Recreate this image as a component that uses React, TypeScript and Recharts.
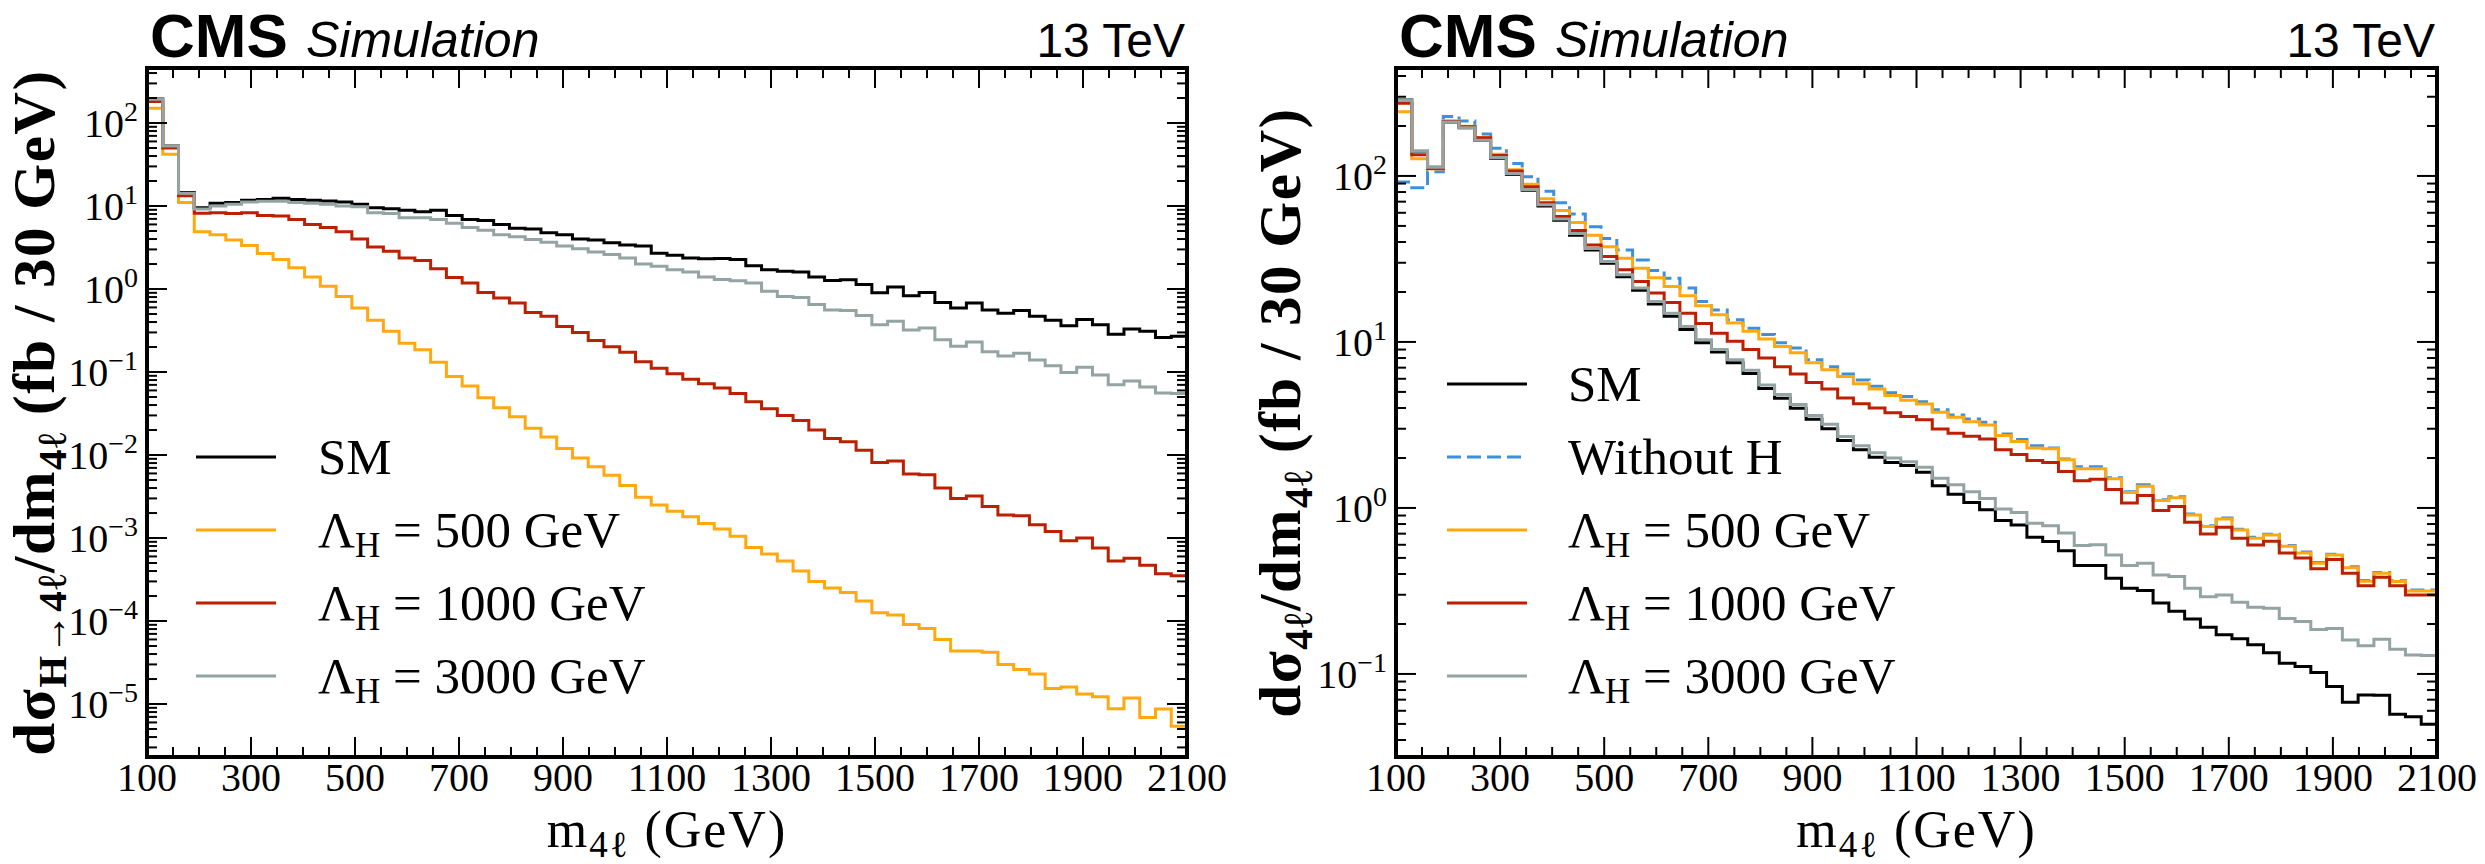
import { LineChart, Line, XAxis, YAxis } from "recharts";

const SERIF = '"Liberation Serif", "DejaVu Serif", "Times New Roman", serif';
const SANS = '"Liberation Sans", Arial, Helvetica, sans-serif';

// binning of the m4l histograms
const BIN_LO = 100;
const BIN_HI = 2100;
const N_BINS = 66;

const X_MAJOR = [100, 300, 500, 700, 900, 1100, 1300, 1500, 1700, 1900, 2100];

// left panel: H -> 4l signal only
const leftSM = [
  195, 53, 14.5, 9.5, 10.8, 11.0, 11.7, 12.0, 12.4, 12.0,
  11.7, 11.5, 11.2, 10.5, 9.5, 9.3, 8.9, 8.5, 8.9, 7.7,
  6.9, 6.7, 6.0, 5.4, 5.3, 4.75, 4.5, 4.0, 3.9, 3.6,
  3.4, 3.3, 2.7, 2.55, 2.37, 2.32, 2.33, 2.26, 1.91, 1.71,
  1.64, 1.6, 1.4, 1.27, 1.29, 1.13, 0.9, 1.06, 0.83, 0.91,
  0.69, 0.59, 0.68, 0.56, 0.51, 0.55, 0.47, 0.42, 0.36, 0.43,
  0.37, 0.286, 0.33, 0.31, 0.26, 0.27,
];
const leftL500 = [
  151, 42, 11, 4.9, 4.5, 3.9, 3.35, 2.67, 2.26, 1.8,
  1.4, 1.08, 0.81, 0.59, 0.42, 0.31, 0.222, 0.185, 0.131, 0.088,
  0.068, 0.049, 0.037, 0.029, 0.021, 0.0165, 0.012, 0.0092, 0.0072, 0.0057,
  0.0043, 0.0031, 0.0025, 0.0021, 0.0018, 0.0015, 0.00128, 0.00105, 0.00077, 0.00064,
  0.00053, 0.0004, 0.0003, 0.00025, 0.00022, 0.000174, 0.000126, 0.000118, 0.000091, 0.000081,
  0.00006, 0.0000435, 0.0000435, 0.000042, 0.00003, 0.000026, 0.000023, 0.0000154, 0.000016, 0.0000132,
  0.0000122, 0.0000088, 0.0000118, 0.0000069, 0.0000087, 0.0000054,
];
const leftL1000 = [
  181, 50, 13.3, 8.2, 8.3, 8.1, 8.3, 7.7, 7.6, 6.9,
  6.0, 5.5, 4.9, 4.0, 3.2, 2.86, 2.37, 2.2, 1.75, 1.38,
  1.18, 0.91, 0.78, 0.68, 0.52, 0.47, 0.353, 0.3, 0.24, 0.202,
  0.173, 0.133, 0.111, 0.095, 0.082, 0.072, 0.064, 0.055, 0.0437, 0.036,
  0.03, 0.026, 0.02, 0.0158, 0.0144, 0.0114, 0.0081, 0.0085, 0.0059, 0.0058,
  0.004, 0.003, 0.0032, 0.0024, 0.0019, 0.00185, 0.00145, 0.0012, 0.00093, 0.001,
  0.00076, 0.00053, 0.00057, 0.00047, 0.00037, 0.00035,
];
const leftL3000 = [
  193, 53, 14.2, 9.2, 10.0, 10.5, 11.2, 11.4, 11.4, 11.0,
  10.8, 10.5, 10.0, 9.8, 8.3, 8.1, 7.2, 7.2, 6.9, 6.2,
  5.5, 5.1, 4.5, 4.25, 3.95, 3.67, 3.3, 3.05, 2.8, 2.6,
  2.37, 2.0, 1.88, 1.71, 1.6, 1.4, 1.3, 1.26, 1.18, 0.94,
  0.815, 0.79, 0.65, 0.56, 0.55, 0.48, 0.37, 0.41, 0.32, 0.34,
  0.244, 0.204, 0.23, 0.176, 0.156, 0.168, 0.14, 0.119, 0.099, 0.114,
  0.092, 0.07, 0.078, 0.066, 0.056, 0.055,
];

// right panel: full 4l
const rightSM = [
  288, 141, 113, 211, 195, 164, 128, 102, 82, 66,
  54, 44, 35.8, 29.8, 24.7, 20.5, 16.9, 14.3, 11.9, 9.9,
  8.7, 7.5, 6.45, 5.25, 4.58, 3.98, 3.42, 3.0, 2.55, 2.24,
  2.02, 1.88, 1.8, 1.64, 1.36, 1.21, 1.08, 0.977, 0.84, 0.79,
  0.666, 0.627, 0.553, 0.45, 0.45, 0.377, 0.328, 0.318, 0.268, 0.239,
  0.214, 0.191, 0.172, 0.163, 0.15, 0.134, 0.116, 0.111, 0.102, 0.084,
  0.0675, 0.0747, 0.0743, 0.0571, 0.0553, 0.0497,
];
const rightNoH = [
  92, 85, 106, 228, 214, 179, 147, 119, 99, 81,
  69, 59, 49.4, 42, 35.8, 31.2, 26.9, 24.2, 21.1, 17.5,
  15.6, 13.6, 12.1, 11.1, 9.9, 9.2, 7.8, 7.1, 6.4, 5.9,
  5.4, 4.95, 4.69, 4.37, 3.9, 3.63, 3.44, 3.28, 2.79, 2.58,
  2.37, 2.3, 1.97, 1.77, 1.77, 1.52, 1.25, 1.38, 1.12, 1.17,
  0.92, 0.78, 0.87, 0.745, 0.665, 0.695, 0.595, 0.542, 0.47, 0.527,
  0.442, 0.366, 0.409, 0.364, 0.32, 0.32,
];
const rightL500 = [
  244, 127, 110, 215, 199, 170, 135, 109, 89, 73,
  62, 52.5, 44, 37.5, 31.9, 27.8, 24.4, 21.6, 19.0, 16.5,
  14.6, 13.0, 11.6, 10.4, 9.4, 8.6, 7.5, 6.8, 6.2, 5.6,
  5.2, 4.75, 4.45, 4.23, 3.77, 3.52, 3.31, 3.16, 2.73, 2.51,
  2.3, 2.27, 1.95, 1.72, 1.72, 1.5, 1.24, 1.35, 1.11, 1.15,
  0.908, 0.772, 0.859, 0.737, 0.656, 0.688, 0.588, 0.536, 0.464, 0.521,
  0.437, 0.362, 0.404, 0.36, 0.316, 0.316,
];
const rightL1000 = [
  274, 134, 111, 213, 198, 170, 133, 107, 86, 69,
  57, 47, 38.4, 32.7, 27.2, 23.1, 19.7, 17.3, 14.9, 12.9,
  11.3, 10.1, 9.0, 8.0, 7.1, 6.4, 5.7, 5.2, 4.6, 4.25,
  4.0, 3.75, 3.55, 3.4, 2.99, 2.82, 2.7, 2.6, 2.24, 2.1,
  1.93, 1.88, 1.66, 1.46, 1.49, 1.29, 1.07, 1.19, 0.964, 1.02,
  0.82, 0.697, 0.765, 0.656, 0.598, 0.63, 0.536, 0.5, 0.43, 0.489,
  0.404, 0.34, 0.382, 0.34, 0.299, 0.299,
];
const rightL3000 = [
  288, 141, 113, 211, 195, 164, 129, 103, 83, 67,
  55, 45, 36.6, 30.5, 25.4, 21.1, 17.5, 14.9, 12.4, 10.3,
  9.0, 7.8, 6.76, 5.5, 4.83, 4.2, 3.6, 3.19, 2.69, 2.37,
  2.15, 2.0, 1.9, 1.76, 1.51, 1.38, 1.25, 1.14, 0.986, 0.94,
  0.81, 0.78, 0.707, 0.593, 0.6, 0.521, 0.45, 0.464, 0.395, 0.386,
  0.328, 0.292, 0.299, 0.27, 0.252, 0.249, 0.216, 0.207, 0.185, 0.188,
  0.16, 0.148, 0.162, 0.141, 0.13, 0.129,
];

const C_BLACK = "#000000";
const C_BLUE = "#3f90da";
const C_ORANGE = "#ffa90e";
const C_RED = "#bd1f01";
const C_GREY = "#94a4a2";

const W = 2485;
const H = 864;
const PLOT_TOP = 68;
const PLOT_BOTTOM = 757;

const edges = Array.from({ length: N_BINS + 1 }, (_, i) => BIN_LO + ((BIN_HI - BIN_LO) * i) / N_BINS);

// histogram rows for stepAfter: one point per lower edge, last edge repeats final bin
function buildRows(cols: Record<string, number[]>) {
  return edges.map((m, i) => {
    const row: Record<string, number> = { m };
    for (const k of Object.keys(cols)) row[k] = cols[k][Math.min(i, N_BINS - 1)];
    return row;
  });
}

const leftRows = buildRows({ sm: leftSM, l500: leftL500, l1000: leftL1000, l3000: leftL3000 });
const rightRows = buildRows({ sm: rightSM, noh: rightNoH, l500: rightL500, l1000: rightL1000, l3000: rightL3000 });

const X_TICKS: number[] = [];
for (let v = BIN_LO; v <= BIN_HI; v += 50) X_TICKS.push(v);

function logTicks(lo: number, hi: number) {
  const out: number[] = [];
  for (let e = Math.floor(Math.log10(lo)); e <= Math.ceil(Math.log10(hi)); e++) {
    for (let k = 1; k <= 9; k++) {
      const v = parseFloat(`${k}e${e}`);
      if (v >= lo && v <= hi) out.push(v);
    }
  }
  return out;
}

const isDecade = (v: number) => {
  const e = Math.log10(v);
  return Math.abs(e - Math.round(e)) < 1e-9;
};

const TICK = { stroke: "#000", strokeWidth: 2 };
const AXIS_LINE = { stroke: "#000", strokeWidth: 4, strokeLinecap: "square" as const };

function BottomTick(props: any) {
  const { x, y, payload } = props;
  const v = payload.value;
  const major = X_MAJOR.includes(v);
  return (
    <g>
      <line x1={x} x2={x} y1={y} y2={y - (major ? 20 : 10)} {...TICK} />
      {major && (
        <text x={x} y={y + 34} textAnchor="middle" fontFamily={SERIF} fontSize={40} fill="#000">
          {v}
        </text>
      )}
    </g>
  );
}

function TopTick(props: any) {
  const { x, y, payload } = props;
  const major = X_MAJOR.includes(payload.value);
  return <line x1={x} x2={x} y1={y} y2={y + (major ? 20 : 10)} {...TICK} />;
}

function LeftTick(props: any) {
  const { x, y, payload } = props;
  const v = payload.value;
  const major = isDecade(v);
  const e = Math.round(Math.log10(v));
  return (
    <g>
      <line x1={x} x2={x + (major ? 20 : 10)} y1={y} y2={y} {...TICK} />
      {major && (
        <text x={x - 9} y={y + 14} textAnchor="end" fontFamily={SERIF} fontSize={40} fill="#000">
          10
          <tspan dy={-16} fontSize={28}>
            {e < 0 ? `\u2212${-e}` : `${e}`}
          </tspan>
        </text>
      )}
    </g>
  );
}

function RightTick(props: any) {
  const { x, y, payload } = props;
  const major = isDecade(payload.value);
  return <line x1={x} x2={x - (major ? 20 : 10)} y1={y} y2={y} {...TICK} />;
}

type Series = { key: string; color: string; dash?: string };

// axes get a 1px band (recharts skips axes of zero size); margins compensate
const AX = 1;

function Panel(props: {
  left: number;
  width: number;
  plotLeft: number;
  plotRight: number;
  rows: Record<string, number>[];
  series: Series[];
  yDomain: [number, number];
}) {
  const { left, width, plotLeft, plotRight, rows, series, yDomain } = props;
  const yTicks = logTicks(yDomain[0], yDomain[1]);
  return (
    <div style={{ position: "absolute", left, top: 0 }}>
      <LineChart
        width={width}
        height={H}
        data={rows}
        margin={{
          top: PLOT_TOP - AX,
          bottom: H - PLOT_BOTTOM - AX,
          left: plotLeft - left - AX,
          right: left + width - plotRight - AX,
        }}
      >
        <XAxis
          xAxisId="b"
          dataKey="m"
          type="number"
          domain={[BIN_LO, BIN_HI]}
          ticks={X_TICKS}
          interval={0}
          allowDataOverflow
          height={AX}
          tickSize={0}
          tickMargin={0}
          tickLine={false}
          axisLine={AXIS_LINE}
          tick={BottomTick}
        />
        <XAxis
          xAxisId="t"
          orientation="top"
          dataKey="m"
          type="number"
          domain={[BIN_LO, BIN_HI]}
          ticks={X_TICKS}
          interval={0}
          allowDataOverflow
          height={AX}
          tickSize={0}
          tickMargin={0}
          tickLine={false}
          axisLine={AXIS_LINE}
          tick={TopTick}
        />
        <YAxis
          yAxisId="l"
          type="number"
          scale="log"
          domain={yDomain}
          ticks={yTicks}
          interval={0}
          allowDataOverflow
          width={AX}
          tickSize={0}
          tickMargin={0}
          tickLine={false}
          axisLine={AXIS_LINE}
          tick={LeftTick}
        />
        <YAxis
          yAxisId="r"
          orientation="right"
          type="number"
          scale="log"
          domain={yDomain}
          ticks={yTicks}
          interval={0}
          allowDataOverflow
          width={AX}
          tickSize={0}
          tickMargin={0}
          tickLine={false}
          axisLine={AXIS_LINE}
          tick={RightTick}
        />
        {series.map((s) => (
          <Line
            key={s.key}
            xAxisId="b"
            yAxisId="l"
            dataKey={s.key}
            type="stepAfter"
            stroke={s.color}
            strokeWidth={3}
            strokeDasharray={s.dash}
            dot={false}
            activeDot={false}
            isAnimationActive={false}
          />
        ))}
      </LineChart>
    </div>
  );
}

function Lambda({ v }: { v: string }) {
  return (
    <>
      Λ
      <tspan dy={10} fontSize={35}>
        H
      </tspan>
      <tspan dy={-10}>{` = ${v} GeV`}</tspan>
    </>
  );
}

function LegendBlock(props: { lineX: number; textX: number; rows: { y: number; color: string; dash?: string; label: any }[] }) {
  return (
    <g>
      {props.rows.map((r, i) => (
        <g key={i}>
          <line x1={props.lineX} x2={props.lineX + 80} y1={r.y} y2={r.y} stroke={r.color} strokeWidth={3} strokeDasharray={r.dash} />
          <text x={props.textX} y={r.y + 17} fontFamily={SERIF} fontSize={51} fill="#000" style={{ whiteSpace: "pre" }}>
            {r.label}
          </text>
        </g>
      ))}
    </g>
  );
}

function Header({ x0, x1 }: { x0: number; x1: number }) {
  return (
    <g>
      <text x={x0 + 3} y={57} fontFamily={SANS} fontWeight="bold" fontSize={62} fill="#000">
        CMS
      </text>
      <text x={x0 + 159} y={57} fontFamily={SANS} fontStyle="italic" fontSize={50} fill="#000">
        Simulation
      </text>
      <text x={x1 - 2} y={57} textAnchor="end" fontFamily={SANS} fontSize={48} fill="#000">
        13 TeV
      </text>
    </g>
  );
}

function XLabel({ cx }: { cx: number }) {
  return (
    <text
      x={cx}
      y={847}
      textAnchor="middle"
      fontFamily={SERIF}
      fontSize={52}
      letterSpacing={2}
      fill="#000"
      style={{ whiteSpace: "pre" }}
    >
      m
      <tspan dy={10} fontSize={37}>
        4ℓ
      </tspan>
      <tspan dy={-10}> (GeV)</tspan>
    </text>
  );
}

function YLabel({ x, cy, sub }: { x: number; cy: number; sub: string }) {
  return (
    <text
      x={x}
      y={cy}
      transform={`rotate(-90 ${x} ${cy})`}
      textAnchor="middle"
      fontFamily={SERIF}
      fontWeight="bold"
      fontSize={59}
      letterSpacing={1.5}
      fill="#000"
      style={{ whiteSpace: "pre" }}
    >
      dσ
      <tspan dy={12} fontSize={41}>
        {sub}
      </tspan>
      <tspan dy={-12}>/dm</tspan>
      <tspan dy={12} fontSize={41}>
        4ℓ
      </tspan>
      <tspan dy={-12}> (fb / 30 GeV)</tspan>
    </text>
  );
}

export default function App() {
  const L = { left: 0, width: 1240, plotLeft: 147, plotRight: 1187 };
  const R = { left: 1250, width: 1235, plotLeft: 1396, plotRight: 2437 };
  const yMid = (PLOT_TOP + PLOT_BOTTOM) / 2;
  return (
    <div style={{ position: "fixed", left: 0, top: 0, width: W, height: H, background: "#fff", overflow: "hidden" }}>
      <Panel
        {...L}
        rows={leftRows}
        yDomain={[2.3e-6, 460]}
        series={[
          { key: "sm", color: C_BLACK },
          { key: "l500", color: C_ORANGE },
          { key: "l1000", color: C_RED },
          { key: "l3000", color: C_GREY },
        ]}
      />
      <Panel
        {...R}
        rows={rightRows}
        yDomain={[0.0316, 447]}
        series={[
          { key: "sm", color: C_BLACK },
          { key: "noh", color: C_BLUE, dash: "14 6" },
          { key: "l500", color: C_ORANGE },
          { key: "l1000", color: C_RED },
          { key: "l3000", color: C_GREY },
        ]}
      />
      <svg width={W} height={H} style={{ position: "absolute", left: 0, top: 0, pointerEvents: "none" }}>
        <Header x0={L.plotLeft} x1={L.plotRight} />
        <Header x0={R.plotLeft} x1={R.plotRight} />
        <XLabel cx={(L.plotLeft + L.plotRight) / 2} />
        <XLabel cx={(R.plotLeft + R.plotRight) / 2} />
        <YLabel x={54} cy={yMid} sub="H→4ℓ" />
        <YLabel x={1300} cy={yMid} sub="4ℓ" />
        <LegendBlock
          lineX={196}
          textX={318}
          rows={[
            { y: 457, color: C_BLACK, label: "SM" },
            { y: 530, color: C_ORANGE, label: <Lambda v="500" /> },
            { y: 603, color: C_RED, label: <Lambda v="1000" /> },
            { y: 676, color: C_GREY, label: <Lambda v="3000" /> },
          ]}
        />
        <LegendBlock
          lineX={1447}
          textX={1568}
          rows={[
            { y: 384, color: C_BLACK, label: "SM" },
            { y: 457, color: C_BLUE, dash: "14 6", label: "Without H" },
            { y: 530, color: C_ORANGE, label: <Lambda v="500" /> },
            { y: 603, color: C_RED, label: <Lambda v="1000" /> },
            { y: 676, color: C_GREY, label: <Lambda v="3000" /> },
          ]}
        />
      </svg>
    </div>
  );
}
